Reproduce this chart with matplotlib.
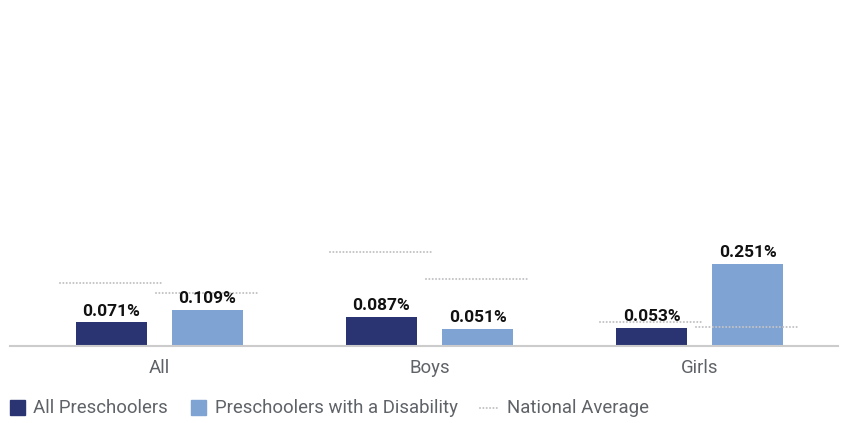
import matplotlib
matplotlib.use('Agg')
import matplotlib.pyplot as plt
from matplotlib.patches import Rectangle
from matplotlib.lines import Line2D
import numpy as np

plt.rcParams['font.family'] = ['Roboto', 'DejaVu Sans']

categories = ['All', 'Boys', 'Girls']
series_names = ['All Preschoolers', 'Preschoolers with a Disability']
all_pre = [0.071, 0.087, 0.053]
disab_pre = [0.109, 0.051, 0.251]
# national average for each bar
nat_all = [0.191, 0.286, 0.073]
nat_disab = [0.162, 0.203, 0.058]
legend_avg = 'National Average'

dark = '#2b3472'
light = '#7fa3d3'
dotc = '#c3c3c6'
W, H = 841, 423


def fx(px):
    return px / W


def fy(py):
    # py measured from the top
    return 1 - py / H


fig = plt.figure(figsize=(W / 100, H / 100), dpi=100)
ax = fig.add_axes([fx(10), fy(345.7), fx(828), (345.7 - 18.7) / H])

x = np.arange(len(categories))
off = 0.178
bw = 0.263
lw_nat = 0.381
dots = (0, (0.01, 1.6))
dot_kw = dict(color=dotc, lw=1.5, ls=dots, dash_capstyle='round')

ax.bar(x - off, all_pre, bw, color=dark)
ax.bar(x + off, disab_pre, bw, color=light)

for xi, n in zip(x, nat_all):
    ax.plot([xi - off - lw_nat / 2, xi - off + lw_nat / 2], [n, n],
            zorder=1, **dot_kw)
for xi, n in zip(x, nat_disab):
    ax.plot([xi + off - lw_nat / 2, xi + off + lw_nat / 2], [n, n],
            zorder=1, **dot_kw)

for vals, sgn in ((all_pre, -1), (disab_pre, 1)):
    for xi, v in zip(x, vals):
        ax.annotate('{:.3f}%'.format(v), (xi + sgn * off, v),
                    xytext=(0, 5), textcoords='offset points',
                    ha='center', va='baseline', fontsize=12.5,
                    fontweight='bold', color='#111111', zorder=5)

ax.set_xlim(-149.5 / 270, (838 - 159.5) / 270)
ax.set_ylim(0, 1.0)
ax.set_xticks(x)
ax.set_xticklabels(categories, fontsize=13.4, color='#5f6368')
ax.tick_params(axis='x', length=0, pad=9.5)
ax.set_yticks([])
for s in ['top', 'right', 'left']:
    ax.spines[s].set_visible(False)
ax.spines['bottom'].set_color('#cccccc')
ax.spines['bottom'].set_linewidth(1.5)

# legend
ly = 408
fs = 13.4
fig.add_artist(Rectangle((fx(10), fy(415)), fx(15), 15 / H,
                         transform=fig.transFigure, color=dark))
fig.text(fx(33), fy(ly), series_names[0], fontsize=fs, color='#5f6368',
         va='center', ha='left')
fig.add_artist(Rectangle((fx(191), fy(415)), fx(15), 15 / H,
                         transform=fig.transFigure, color=light))
fig.text(fx(215), fy(ly), series_names[1], fontsize=fs, color='#5f6368',
         va='center', ha='left')
fig.add_artist(Line2D([fx(480), fx(500)], [fy(ly), fy(ly)],
                      transform=fig.transFigure, **dot_kw))
fig.text(fx(507), fy(ly), legend_avg, fontsize=fs, color='#5f6368',
         va='center', ha='left')

fig.savefig('out.png', dpi=100)
